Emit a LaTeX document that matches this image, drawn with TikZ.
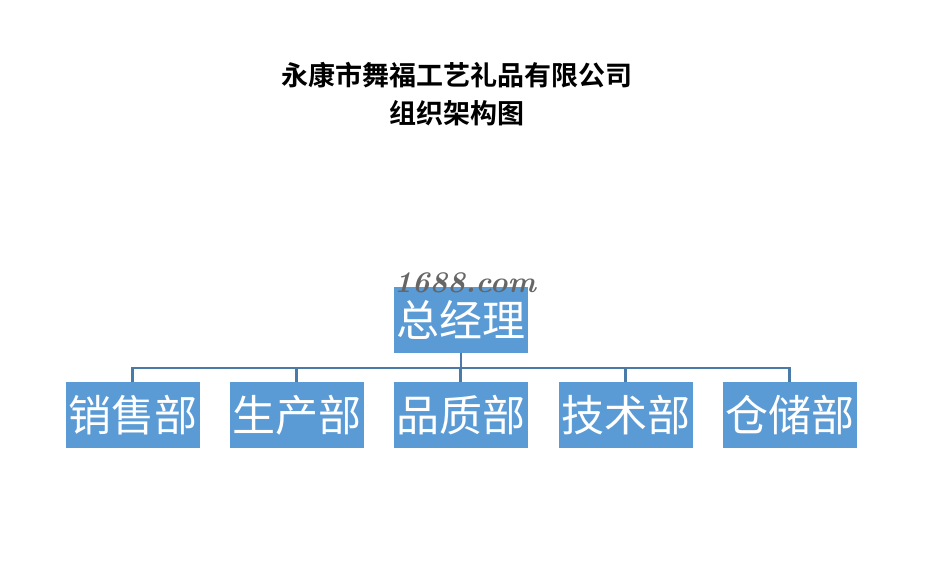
\documentclass[tikz,border=0pt]{standalone}
\usepackage{fontspec}
\newfontfamily\cjk{Noto Sans CJK SC}
\newfontfamily\cjkb{Noto Sans CJK SC Bold}
\begin{document}
\begin{tikzpicture}[x=1pt,y=-1pt,
  box/.style={fill=boxblue, draw=none, minimum width=134pt, minimum height=66pt, inner sep=0pt, text=white, font=\cjk\fontsize{43}{45}\selectfont},
  conn/.style={draw=lineblue, line width=2.2pt}]
\definecolor{boxblue}{HTML}{5B9BD5}
\definecolor{lineblue}{HTML}{4A7BA8}
\useasboundingbox (0,0) rectangle (929,563);
\node[font=\cjkb\fontsize{27}{30}\selectfont] (t1) at (457,75) {永康市舞福工艺礼品有限公司};
\node[font=\cjkb\fontsize{27}{30}\selectfont] (t2) at (457,113) {组织架构图};
\node[box] (gm) at (461,319.5) {总经理};
\node[box] (a) at (132.5,415) {销售部};
\node[box] (b) at (296.5,415) {生产部};
\node[box] (c) at (460.5,415) {品质部};
\node[box] (d) at (625.5,415) {技术部};
\node[box] (e) at (789.5,415) {仓储部};
\node[font=\bfseries\itshape\fontsize{30}{32}\selectfont, text=gray!80!black] (wm) at (465,283) {1688.com};
\coordinate (h) at (461,368);
\draw[conn] (gm.south) -- (h);
\draw[conn] (a.north) |- (h);
\draw[conn] (b.north) |- (h);
\draw[conn] (c.north) -- (c.north |- h);
\draw[conn] (d.north) |- (h);
\draw[conn] (e.north) |- (h);
\end{tikzpicture}
\end{document}
